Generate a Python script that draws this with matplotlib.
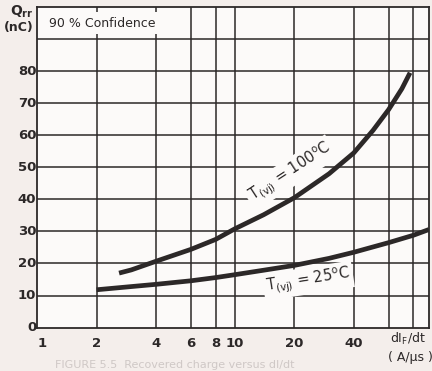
import matplotlib
matplotlib.use("Agg")
import matplotlib.pyplot as plt
from matplotlib.ticker import NullLocator, NullFormatter

# ---- data ----
x_25 = [2, 3, 4, 6, 8, 10, 14, 20, 30, 40, 60, 80, 96]
y_25 = [11.8, 12.8, 13.5, 14.6, 15.6, 16.5, 17.9, 19.4, 21.6, 23.5, 26.5, 28.8, 30.6]

x_100 = [2.6, 3, 4, 6, 8, 10, 14, 20, 30, 40, 50, 60, 70, 77]
y_100 = [17.0, 18.0, 20.7, 24.4, 27.5, 30.8, 35.2, 40.5, 48.0, 54.5, 61.5, 68.0, 74.5, 79.5]

x_grid = [2, 4, 6, 8, 10, 20, 40, 60, 80]
x_ticklabels = [1, 2, 4, 6, 8, 10, 20, 40]
y_grid = [10, 20, 30, 40, 50, 60, 70, 80, 90]
y_ticklabels = [0, 10, 20, 30, 40, 50, 60, 70, 80]

BG = "#f4eeeb"
PLOTBG = "#fcfaf9"
INK = "#2c2828"
plt.rcParams['font.family'] = ['DejaVu Sans']

fig = plt.figure(figsize=(4.32, 3.71), dpi=100, facecolor=BG)
ax = fig.add_axes([37/432, 1-327.6/371, (429-37)/432, (327.6-7)/371])
ax.set_facecolor(PLOTBG)
ax.set_xscale("log")
ax.set_xlim(1, 96)
ax.set_ylim(0, 100)

for s in ax.spines.values():
    s.set_color(INK)
    s.set_linewidth(1.3)

for xv in x_grid:
    ax.axvline(xv, color=INK, lw=1.1, zorder=1)
for yv in y_grid:
    ax.axhline(yv, color=INK, lw=1.1, zorder=1)

ax.xaxis.set_major_locator(NullLocator())
ax.xaxis.set_minor_locator(NullLocator())
ax.xaxis.set_minor_formatter(NullFormatter())
ax.yaxis.set_major_locator(NullLocator())
ax.tick_params(length=0)

tfont = dict(fontsize=9.5, fontweight='bold', color=INK)
for xv in x_ticklabels:
    ax.text(xv * (1.06 if xv == 1 else 1.0), -2.8, str(xv), ha='center', va='top', **tfont)
for yv in y_ticklabels:
    ax.annotate(str(yv), xy=(0, yv), xycoords=('axes fraction', 'data'),
                xytext=(-0.5, 0), textcoords='offset points', ha='right', va='center', **tfont)

ax.plot(x_25, y_25, color=INK, lw=3.4, solid_capstyle='butt', solid_joinstyle='round', zorder=3)
ax.plot(x_100, y_100, color=INK, lw=3.4, solid_capstyle='butt', solid_joinstyle='round', zorder=3)

bb = dict(facecolor=PLOTBG, edgecolor='none', pad=2)
ax.text(19.1, 48.3, r"T$_{\mathregular{(vj)}}$ = 100$^{\mathregular{o}}$C", rotation=33, ha='center', va='center',
        fontsize=10.5, color=INK, bbox=bb, zorder=2, rotation_mode='anchor')
ax.text(23.5, 14.6, r"T$_{\mathregular{(vj)}}$ = 25$^{\mathregular{o}}$C", rotation=9, ha='center', va='center',
        fontsize=10.5, color=INK, bbox=bb, zorder=2, rotation_mode='anchor')

ax.text(1.15, 95, "90 % Confidence", ha='left', va='center', fontsize=9, color=INK,
        bbox=dict(facecolor=PLOTBG, edgecolor='none', pad=3.5), zorder=2)

fig.text(34/432, 1-12/371, r"Q$_{\mathregular{rr}}$", ha='right', va='center', fontsize=10, fontweight='bold', color=INK)
fig.text(34/432, 1-27/371, "(nC)", ha='right', va='center', fontsize=9, fontweight='bold', color=INK)

fig.text(408/432, 1-339/371, r"dI$_{\mathregular{F}}$/dt", ha='center', va='center', fontsize=9, color=INK)
fig.text(410/432, 1-357/371, "( A/µs )", ha='center', va='center', fontsize=9, color=INK)

fig.text(55/432, 1-365/371, "FIGURE 5.5  Recovered charge versus dI/dt", ha='left', va='center',
         fontsize=8, color="#cfc8c6")

fig.savefig("out.png", dpi=100, facecolor=BG)
